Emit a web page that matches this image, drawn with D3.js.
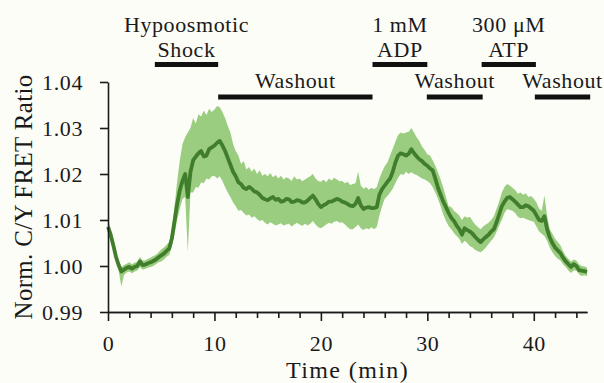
<!DOCTYPE html>
<html>
<head>
<meta charset="utf-8">
<script src="https://cdn.jsdelivr.net/npm/d3@7"></script>
<style>
  html, body { margin: 0; padding: 0; background: #fdfdf8; }
</style>
</head>
<body>
<div id="chart"></div>
<script>
// sampling step of the trace, minutes
var timeStep = 0.25;

// mean normalized C/Y FRET ratio, one row per minute (4 samples)
var meanRatio = [
  1.0085, 1.0068, 1.0045, 1.0020,
  1.0002, 0.9988, 0.9992, 0.9996,
  0.9998, 0.9994, 0.9998, 1.0000,
  1.0010, 1.0002, 1.0003, 1.0006,
  1.0008, 1.0011, 1.0014, 1.0019,
  1.0023, 1.0027, 1.0033, 1.0038,
  1.0060, 1.0098, 1.0135, 1.0165,
  1.0185, 1.0200, 1.0150, 1.0205,
  1.0230, 1.0238, 1.0245, 1.0250,
  1.0238, 1.0240, 1.0254, 1.0258,
  1.0262, 1.0268, 1.0272, 1.0262,
  1.0250, 1.0235, 1.0220, 1.0205,
  1.0195, 1.0182, 1.0178, 1.0170,
  1.0167, 1.0172, 1.0168, 1.0162,
  1.0160, 1.0155, 1.0148, 1.0145,
  1.0143, 1.0147, 1.0150, 1.0144,
  1.0146, 1.0140, 1.0141, 1.0146,
  1.0145, 1.0139, 1.0140, 1.0143,
  1.0142, 1.0138, 1.0138, 1.0142,
  1.0148, 1.0153, 1.0145, 1.0135,
  1.0128, 1.0132, 1.0135, 1.0140,
  1.0140, 1.0143, 1.0146, 1.0144,
  1.0140, 1.0138, 1.0135, 1.0131,
  1.0130, 1.0135, 1.0148, 1.0132,
  1.0124, 1.0127, 1.0128, 1.0126,
  1.0126, 1.0128, 1.0155, 1.0167,
  1.0175, 1.0183, 1.0190, 1.0205,
  1.0225, 1.0240, 1.0245, 1.0243,
  1.0240, 1.0244, 1.0254, 1.0245,
  1.0238, 1.0232, 1.0228, 1.0222,
  1.0218, 1.0212, 1.0208, 1.0190,
  1.0170, 1.0155, 1.0140, 1.0128,
  1.0115, 1.0105, 1.0098, 1.0088,
  1.0080, 1.0068, 1.0082, 1.0078,
  1.0075, 1.0070, 1.0063, 1.0057,
  1.0052, 1.0058, 1.0063, 1.0068,
  1.0075, 1.0080, 1.0095, 1.0112,
  1.0130, 1.0140, 1.0148, 1.0150,
  1.0145, 1.0140, 1.0134, 1.0128,
  1.0128, 1.0132, 1.0130, 1.0125,
  1.0120, 1.0110, 1.0100, 1.0098,
  1.0108, 1.0080, 1.0062, 1.0050,
  1.0040, 1.0034, 1.0028, 1.0018,
  1.0010, 1.0004, 0.9998, 1.0004,
  1.0000, 0.9991, 0.9990, 0.9989,
  0.9987
];

// upper edge of the error band
var upperRatio = [
  1.0100, 1.0080, 1.0055, 1.0030,
  1.0012, 0.9998, 1.0002, 1.0005,
  1.0008, 1.0004, 1.0007, 1.0010,
  1.0020, 1.0012, 1.0012, 1.0016,
  1.0018, 1.0022, 1.0024, 1.0030,
  1.0036, 1.0040, 1.0046, 1.0052,
  1.0078, 1.0130, 1.0185, 1.0230,
  1.0265, 1.0280, 1.0290, 1.0300,
  1.0322, 1.0310, 1.0330, 1.0325,
  1.0338, 1.0328, 1.0342, 1.0335,
  1.0340, 1.0348, 1.0345, 1.0335,
  1.0322, 1.0305, 1.0290, 1.0265,
  1.0250, 1.0240, 1.0222, 1.0228,
  1.0210, 1.0215, 1.0205, 1.0212,
  1.0200, 1.0208, 1.0196, 1.0200,
  1.0195, 1.0202, 1.0193, 1.0198,
  1.0190, 1.0196, 1.0188, 1.0193,
  1.0190, 1.0185, 1.0195, 1.0188,
  1.0190, 1.0184, 1.0188, 1.0192,
  1.0195, 1.0200, 1.0190, 1.0185,
  1.0183, 1.0188, 1.0182, 1.0190,
  1.0186, 1.0192, 1.0188, 1.0184,
  1.0185, 1.0180, 1.0183, 1.0176,
  1.0178, 1.0180, 1.0205, 1.0175,
  1.0168, 1.0172, 1.0166, 1.0170,
  1.0167, 1.0172, 1.0190, 1.0205,
  1.0217, 1.0225, 1.0240, 1.0255,
  1.0270, 1.0285, 1.0290, 1.0288,
  1.0290, 1.0292, 1.0300, 1.0290,
  1.0280, 1.0272, 1.0260, 1.0252,
  1.0243, 1.0240, 1.0230, 1.0218,
  1.0204, 1.0188, 1.0170, 1.0150,
  1.0130, 1.0128, 1.0120, 1.0115,
  1.0110, 1.0100, 1.0108, 1.0105,
  1.0107, 1.0098, 1.0090, 1.0085,
  1.0080, 1.0086, 1.0090, 1.0094,
  1.0100, 1.0108, 1.0124, 1.0140,
  1.0160, 1.0172, 1.0178, 1.0175,
  1.0170, 1.0165, 1.0157, 1.0160,
  1.0155, 1.0158, 1.0150, 1.0152,
  1.0146, 1.0138, 1.0125, 1.0120,
  1.0153, 1.0110, 1.0080, 1.0070,
  1.0059, 1.0052, 1.0045, 1.0032,
  1.0022, 1.0016, 1.0010, 1.0014,
  1.0012, 1.0004, 1.0000, 0.9999,
  0.9997
];

// lower edge of the error band
var lowerRatio = [
  1.0070, 1.0055, 1.0035, 1.0010,
  0.9990, 0.9955, 0.9980, 0.9986,
  0.9988, 0.9984, 0.9988, 0.9990,
  0.9998, 0.9992, 0.9994, 0.9996,
  0.9998, 1.0000, 1.0004, 1.0008,
  1.0010, 1.0014, 1.0020, 1.0024,
  1.0042, 1.0070, 1.0100, 1.0125,
  1.0146, 1.0150, 1.0030, 1.0160,
  1.0160, 1.0172, 1.0170, 1.0182,
  1.0180, 1.0190, 1.0188, 1.0195,
  1.0196, 1.0190, 1.0195, 1.0185,
  1.0172, 1.0160, 1.0150, 1.0138,
  1.0130, 1.0120, 1.0122, 1.0115,
  1.0110, 1.0112, 1.0105, 1.0108,
  1.0102, 1.0098, 1.0100, 1.0094,
  1.0090, 1.0095, 1.0092, 1.0088,
  1.0090, 1.0093, 1.0088, 1.0090,
  1.0092, 1.0086, 1.0090, 1.0094,
  1.0090, 1.0087, 1.0092, 1.0088,
  1.0092, 1.0098, 1.0090, 1.0084,
  1.0082, 1.0086, 1.0090, 1.0094,
  1.0092, 1.0096, 1.0098, 1.0094,
  1.0095, 1.0090, 1.0085, 1.0080,
  1.0080, 1.0085, 1.0090, 1.0082,
  1.0078, 1.0082, 1.0080, 1.0084,
  1.0080, 1.0085, 1.0110, 1.0130,
  1.0146, 1.0152, 1.0160, 1.0168,
  1.0180, 1.0192, 1.0200, 1.0198,
  1.0205, 1.0200, 1.0204, 1.0200,
  1.0198, 1.0194, 1.0190, 1.0188,
  1.0185, 1.0180, 1.0172, 1.0160,
  1.0146, 1.0130, 1.0112, 1.0098,
  1.0087, 1.0080, 1.0072, 1.0065,
  1.0059, 1.0048, 1.0055, 1.0050,
  1.0043, 1.0040, 1.0035, 1.0032,
  1.0030, 1.0034, 1.0040, 1.0048,
  1.0055, 1.0062, 1.0074, 1.0088,
  1.0100, 1.0115, 1.0124, 1.0122,
  1.0120, 1.0115, 1.0107, 1.0104,
  1.0105, 1.0102, 1.0100, 1.0098,
  1.0096, 1.0086, 1.0075, 1.0070,
  1.0065, 1.0055, 1.0040, 1.0030,
  1.0022, 1.0016, 1.0012, 1.0004,
  0.9998, 0.9990, 0.9985, 0.9990,
  0.9990, 0.9982, 0.9978, 0.9980,
  0.9978
];

var yTicks = [0.99, 1.00, 1.01, 1.02, 1.03, 1.04];
var xMajorTicks = [0, 10, 20, 30, 40];
var xMinorTicks = [2, 4, 6, 8, 12, 14, 16, 18, 22, 24, 26, 28, 32, 34, 36, 38, 42, 44];

// treatment periods above the trace
var eventLabels = [["Hypoosmotic", "Shock"], ["Washout"], ["1 mM", "ADP"], ["Washout"], ["300 \u03bcM", "ATP"], ["Washout"]];
var eventStart = [4.4, 10.35, 24.85, 29.95, 35.1, 40.1];
var eventEnd = [10.35, 24.85, 30.0, 35.2, 40.2, 45.3];
var eventRow = [0, 1, 0, 1, 0, 1];

var width = 604, height = 383;
var serif = "'Liberation Serif'";
var ink = "#1a1a1a";

var x = d3.scaleLinear().domain([0, 45]).range([108, 587]);
var y = d3.scaleLinear().domain([0.99, 1.04]).range([312, 82]);

var data = meanRatio.map(function(m, i) {
  return {t: i * timeStep, mean: m, hi: upperRatio[i], lo: lowerRatio[i]};
});

var svg = d3.select("#chart").append("svg")
  .attr("width", width)
  .attr("height", height)
  .style("display", "block");

svg.append("rect")
  .attr("width", width)
  .attr("height", height)
  .attr("fill", "#fdfdf8");

// error band
svg.append("path")
  .datum(data)
  .attr("fill", "#9bcd80")
  .attr("d", d3.area()
    .x(function(d) { return x(d.t); })
    .y0(function(d) { return y(d.lo); })
    .y1(function(d) { return y(d.hi); }));

// mean trace
svg.append("path")
  .datum(data)
  .attr("fill", "none")
  .attr("stroke", "#417e2c")
  .attr("stroke-width", 3.8)
  .attr("stroke-linejoin", "round")
  .attr("d", d3.line()
    .x(function(d) { return x(d.t); })
    .y(function(d) { return y(d.mean); }));

// y axis
var yAxis = svg.append("g")
  .attr("transform", "translate(" + x(0) + ",0)")
  .call(d3.axisLeft(y)
    .tickValues(yTicks)
    .tickFormat(d3.format(".2f"))
    .tickSize(8)
    .tickSizeOuter(0)
    .tickPadding(17));

// x axis, minor ticks first then major ones with labels
var xAxisMinor = svg.append("g")
  .attr("transform", "translate(0," + y(0.99) + ")")
  .call(d3.axisBottom(x)
    .tickValues(xMinorTicks)
    .tickFormat("")
    .tickSize(6)
    .tickSizeOuter(0));

var xAxis = svg.append("g")
  .attr("transform", "translate(0," + y(0.99) + ")")
  .call(d3.axisBottom(x)
    .tickValues(xMajorTicks)
    .tickFormat(d3.format("d"))
    .tickSize(9)
    .tickSizeOuter(0)
    .tickPadding(14.5));

[yAxis, xAxisMinor, xAxis].forEach(function(g) {
  g.selectAll("path, line").attr("stroke", ink).attr("stroke-width", 1.6);
  g.selectAll("text")
    .attr("fill", ink)
    .style("font-family", serif)
    .style("font-size", "22px")
    .style("letter-spacing", "0.6px");
});

// axis titles
svg.append("text")
  .attr("x", (x(0) + x(45)) / 2)
  .attr("y", 377.8)
  .attr("text-anchor", "middle")
  .attr("fill", ink)
  .style("font-family", serif)
  .style("font-size", "24px")
  .style("letter-spacing", "1.4px")
  .text("Time (min)");

svg.append("text")
  .attr("transform", "translate(32," + ((y(0.99) + y(1.04)) / 2) + ") rotate(-90)")
  .attr("text-anchor", "middle")
  .attr("fill", ink)
  .style("font-family", serif)
  .style("font-size", "25px")
  .style("letter-spacing", "0.3px")
  .text("Norm. C/Y FRET Ratio");

// treatment bars and labels
var barY = [64.5, 97];
var labelBase = [[31.5, 56.5], [88]];

eventLabels.forEach(function(lines, i) {
  var row = eventRow[i];
  var cx = (x(eventStart[i]) + x(eventEnd[i])) / 2;

  svg.append("line")
    .attr("x1", x(eventStart[i]))
    .attr("x2", x(eventEnd[i]))
    .attr("y1", barY[row])
    .attr("y2", barY[row])
    .attr("stroke", "#111")
    .attr("stroke-width", 5);

  var base = row == 0 ? labelBase[0] : labelBase[1];
  lines.forEach(function(s, j) {
    svg.append("text")
      .attr("x", cx)
      .attr("y", base[j])
      .attr("text-anchor", "middle")
      .attr("fill", ink)
      .style("font-family", serif)
      .style("font-size", "22px")
      .style("letter-spacing", "0.6px")
      .text(s);
  });
});
</script>
</body>
</html>
